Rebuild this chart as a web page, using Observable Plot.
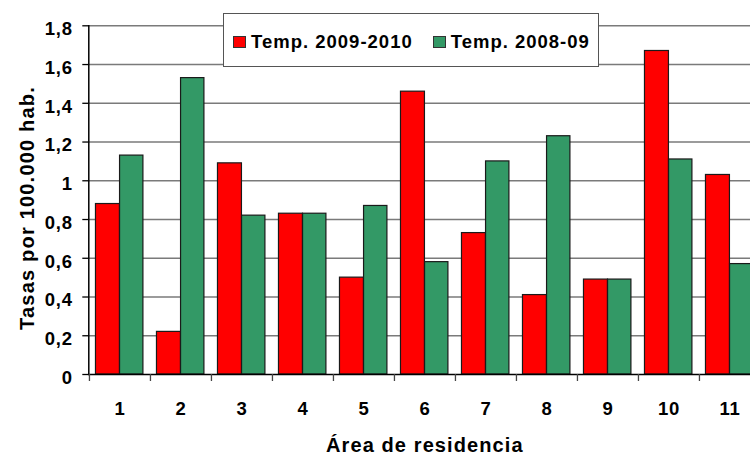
<!DOCTYPE html>
<html><head><meta charset="utf-8">
<script src="https://cdn.jsdelivr.net/npm/d3@7"></script>
<script src="https://cdn.jsdelivr.net/npm/@observablehq/plot@0.6"></script>
<style>
html,body{margin:0;padding:0;background:#fff;overflow:hidden;}
#wrap{position:relative;width:750px;height:454px;font-family:Arial,"Liberation Sans",Helvetica,sans-serif;overflow:hidden;}
#legend{position:absolute;left:223px;top:13px;width:376px;height:54px;box-sizing:border-box;border:1.5px solid #555;background:#fff;display:flex;align-items:center;padding:4px 0 0 9px;font-family:Arial,"Liberation Sans",Helvetica,sans-serif;font-weight:bold;font-size:18.5px;letter-spacing:1px;color:#000;white-space:nowrap;}
.item{display:flex;align-items:center;margin-right:20px;white-space:nowrap;}
.sw{display:inline-block;width:11px;height:10px;border:1px solid #333;margin-right:5px;flex:none;}
.ttl{letter-spacing:1.1px;}
.ttly{letter-spacing:1.2px;}
</style></head><body><div id="wrap"></div>
<script>
const areas = ["1","2","3","4","5","6","7","8","9","10","11"];
const series = ["Temp. 2009-2010","Temp. 2008-09"];
const colors = ["#ff0000","#339966"];
const values2009_2010 = [0.88,0.22,1.09,0.83,0.50,1.46,0.73,0.41,0.49,1.67,1.03];
const values2008_09 = [1.13,1.53,0.82,0.83,0.87,0.58,1.10,1.23,0.49,1.11,0.57];
const yTicks = [0,0.2,0.4,0.6,0.8,1,1.2,1.4,1.6,1.8];
const yTickLabels = ["0","0,2","0,4","0,6","0,8","1","1,2","1,4","1,6","1,8"];
const xTitle = "Área de residencia";
const yTitle = "Tasas por 100.000 hab.";

const rowsA = areas.map((a,i)=>({area:a, series:series[0], value:values2009_2010[i]}));
const rowsB = areas.map((a,i)=>({area:a, series:series[1], value:values2008_09[i]}));

const W = 750, H = 454, mL = 88.3, mR = -10.4, mT = 25.3, mB = 80;
const bw = (W - mL - mR) / areas.length;

const chart = Plot.plot({
  width: W, height: H,
  marginLeft: mL, marginRight: mR, marginTop: mT, marginBottom: mB,
  style: {fontFamily: "Arial, 'Liberation Sans', Helvetica, sans-serif", fontSize: "18.5px", fontWeight: "bold", letterSpacing: "0.8px", color: "#000", background: "#fff", overflow: "hidden"},
  x: {type: "band", domain: areas, padding: 0, label: null},
  y: {domain: [0, 1.8], label: null},
  color: {domain: series, range: colors},
  marks: [
    Plot.ruleY(yTicks.slice(1), {stroke: "#7a7a7a", strokeWidth: 1.4}),
    Plot.barY(rowsA, {x: "area", y: "value", fill: "series", stroke: "#1a1a1a", strokeWidth: 1.2, insetLeft: bw*0.106, insetRight: bw*0.5}),
    Plot.barY(rowsB, {x: "area", y: "value", fill: "series", stroke: "#1a1a1a", strokeWidth: 1.2, insetLeft: bw*0.5, insetRight: bw*0.116}),
    Plot.ruleY([0], {stroke: "#000", strokeWidth: 1.5}),
    Plot.frame({anchor: "left", stroke: "#000", strokeWidth: 1.5}),
    Plot.axisY(yTicks, {tickSize: 6, tickFormat: () => "", stroke: "#000", strokeWidth: 1.3}),
    Plot.axisY(yTicks, {tickSize: 0, tickPadding: 16, dy: 3.5, tickFormat: d => yTickLabels[yTicks.indexOf(d)]}),
    Plot.axisX(areas, {tickSize: 7, tickFormat: () => "", dx: -bw/2, stroke: "#444", strokeWidth: 1.3}),
    Plot.axisX(areas, {tickSize: 0, tickPadding: 27}),
    Plot.text([xTitle], {frameAnchor: "bottom", lineAnchor: "bottom", dy: 77, fontSize: 20, className: "ttl"}),
    Plot.text([yTitle], {frameAnchor: "left", textAnchor: "middle", lineAnchor: "bottom", rotate: -90, dx: -55, dy: 7.8, fontSize: 20, className: "ttly"})
  ]
});
const wrap = document.getElementById("wrap");
wrap.appendChild(chart);

const legend = document.createElement("div");
legend.id = "legend";
series.forEach((s,i) => {
  const item = document.createElement("span");
  item.className = "item";
  const sw = document.createElement("span");
  sw.className = "sw";
  sw.style.background = colors[i];
  const t = document.createElement("span");
  t.textContent = s;
  item.appendChild(sw); item.appendChild(t);
  legend.appendChild(item);
});
wrap.appendChild(legend);
</script></body></html>
